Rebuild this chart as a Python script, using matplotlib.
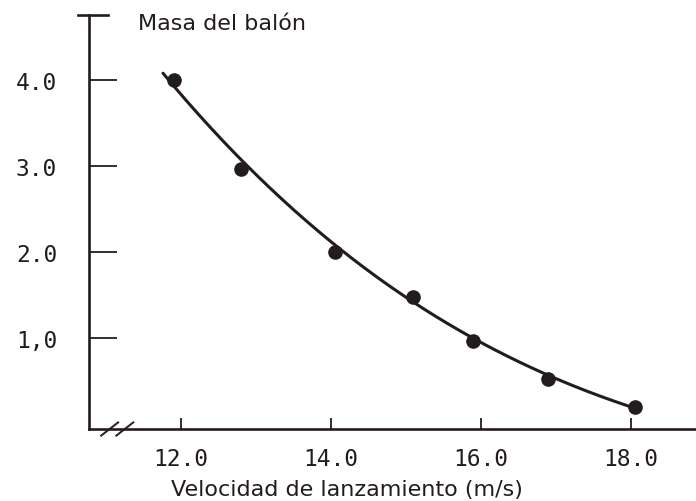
import matplotlib
matplotlib.use("Agg")
import matplotlib.pyplot as plt
import numpy as np

# velocidad de lanzamiento (m/s) vs masa del balón
velocidad = [11.9, 12.8, 14.05, 15.1, 15.9, 16.9, 18.05]
masa = [4.0, 2.97, 2.0, 1.48, 0.96, 0.52, 0.2]

# points along the hand-drawn trend curve
curva_x = [11.76, 12.82, 14.05, 15.12, 15.9, 16.9, 18.05]
curva_y = [4.09, 3.04, 2.05, 1.49, 0.97, 0.53, 0.2]

xticks = [12, 14, 16, 18]
xtick_labels = ["12.0", "14.0", "16.0", "18.0"]
yticks = [1, 2, 3, 4]
ytick_labels = ["1,0", "2.0", "3.0", "4.0"]

ink = "#231c1c"

fig = plt.figure(figsize=(6.96, 5.02), dpi=100)
ax = fig.add_axes([89 / 696, 72 / 502, 607 / 696, 414 / 502])

# smooth the trend curve
coef = np.polyfit(curva_x, curva_y, 3)
xs = np.linspace(curva_x[0], curva_x[-1], 200)
ax.plot(xs, np.polyval(coef, xs), color=ink, lw=2.2, solid_capstyle="round")
ax.plot(velocidad, masa, "o", color=ink, ms=9.5)

ax.set_xlim(10.773, 18.867)
ax.set_ylim(-0.058, 4.756)

for side in ["top", "right"]:
    ax.spines[side].set_visible(False)
for side in ["left", "bottom"]:
    ax.spines[side].set_linewidth(1.9)
    ax.spines[side].set_color(ink)

ax.set_xticks(xticks)
ax.set_xticklabels(xtick_labels, family="DejaVu Sans Mono", fontsize=16.5, color=ink)
ax.set_yticks(yticks)
ax.set_yticklabels(ytick_labels, family="DejaVu Sans Mono", fontsize=16.5, color=ink)
ax.tick_params(axis="y", direction="in", length=20, width=1.3, pad=23, color=ink)
ax.tick_params(axis="x", direction="in", length=8, width=1.3, pad=13, color=ink)

# cap on top of the y axis
ax.plot([-0.018, 0.032], [1, 1], transform=ax.transAxes, color=ink, lw=1.9, clip_on=False)
# axis break marks
for x0 in [0.020, 0.045]:
    ax.plot([x0, x0 + 0.028], [-0.016, 0.016], transform=ax.transAxes,
            color=ink, lw=1.4, clip_on=False)

fig.text(138 / 696, 1 - 24 / 502, "Masa del balón", family="DejaVu Sans",
         fontsize=16, color=ink, va="center", ha="left")
fig.text(347 / 696, 1 - 490 / 502, "Velocidad de lanzamiento (m/s)",
         family="DejaVu Sans", fontsize=16, color=ink, va="center", ha="center")

fig.savefig("out.png", dpi=100, facecolor="white")
